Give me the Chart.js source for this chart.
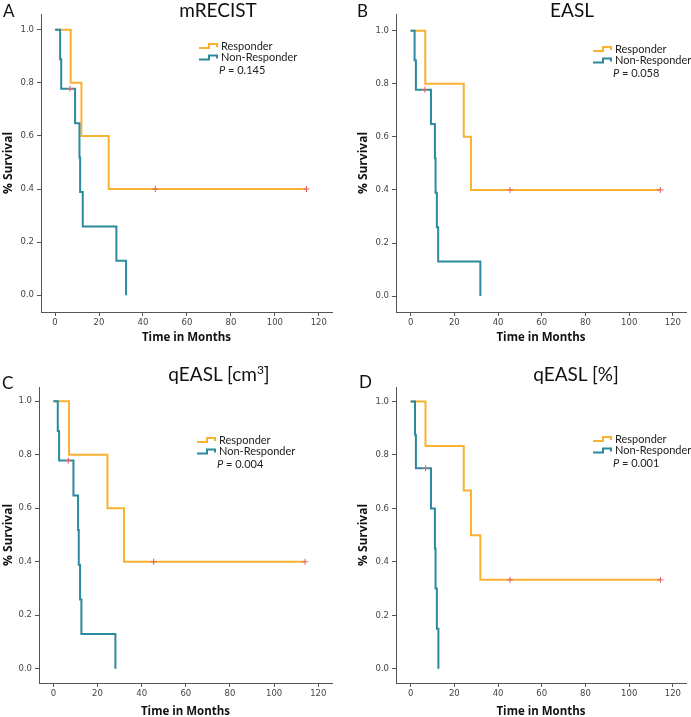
<!DOCTYPE html>
<html>
<head>
<meta charset="utf-8">
<script src="https://cdn.jsdelivr.net/npm/chart.js@4.4.1/dist/chart.umd.min.js"></script>
<style>
  body { margin: 0; background: #fff; width: 691px; height: 717px; position: relative; overflow: hidden; }
  canvas { position: absolute; }
  .lbl { position: absolute; font-family: Lato, "Open Sans", sans-serif; color: #111; white-space: nowrap; line-height: 1; }
  .letter { font-size: 17px; }
  .ttl { font-size: 19px; transform: translateX(-50%); }
  sup { font-size: 12px; vertical-align: 7px; }
</style>
</head>
<body>
<canvas id="chartA" width="345" height="345" style="left:0;top:0"></canvas>
<canvas id="chartB" width="346" height="345" style="left:345px;top:0"></canvas>
<canvas id="chartC" width="345" height="379" style="left:0;top:340px"></canvas>
<canvas id="chartD" width="346" height="379" style="left:345px;top:340px"></canvas>

<div class="lbl letter" style="left:3px;top:2px">A</div>
<div class="lbl ttl" style="left:218px;top:0px">mRECIST</div>
<div class="lbl letter" style="left:357px;top:2px">B</div>
<div class="lbl ttl" style="left:572px;top:0px">EASL</div>
<div class="lbl letter" style="left:2px;top:374px">C</div>
<div class="lbl ttl" style="left:219px;top:364px">qEASL [cm<sup>3</sup>]</div>
<div class="lbl letter" style="left:359px;top:373px">D</div>
<div class="lbl ttl" style="left:576px;top:364px">qEASL [%]</div>

<script>
// axis ticks
const xTicks = [0, 20, 40, 60, 80, 100, 120];
const yTicks = [0, 0.2, 0.4, 0.6, 0.8, 1.0];

// A - mRECIST
const respTimeA = [0, 7.1, 12.0, 24.4, 114.4];
const respSurvA = [1, 0.8, 0.6, 0.4, 0.4];
const nonTimeA = [0, 2.3, 2.8, 9.1, 11.1, 11.4, 12.6, 27.9, 32.3];
const nonSurvA = [1, 0.889, 0.778, 0.648, 0.519, 0.389, 0.259, 0.130, 0];
const respCensTimeA = [45.6, 114.4];
const respCensSurvA = [0.4, 0.4];
const nonCensTimeA = [6.8];
const nonCensSurvA = [0.778];

// B - EASL
const respTimeB = [0, 6.7, 24.3, 27.6, 114.3];
const respSurvB = [1, 0.8, 0.6, 0.4, 0.4];
const nonTimeB = [0, 1.8, 2.4, 9.3, 11.1, 11.4, 12.0, 12.6, 31.9];
const nonSurvB = [1, 0.889, 0.778, 0.648, 0.519, 0.389, 0.259, 0.130, 0];
const respCensTimeB = [45.5, 114.3];
const respCensSurvB = [0.4, 0.4];
const nonCensTimeB = [6.5];
const nonCensSurvB = [0.778];

// C - qEASL [cm3]
const respTimeC = [0, 7.1, 24.5, 32.0, 114.0];
const respSurvC = [1, 0.8, 0.6, 0.4, 0.4];
const nonTimeC = [0, 2.0, 2.6, 9.1, 11.2, 11.5, 12.1, 12.7, 28.1];
const nonSurvC = [1, 0.889, 0.778, 0.648, 0.519, 0.389, 0.259, 0.130, 0];
const respCensTimeC = [45.4, 114.0];
const respCensSurvC = [0.4, 0.4];
const nonCensTimeC = [6.8];
const nonCensSurvC = [0.778];

// D - qEASL [%]
const respTimeD = [0, 6.8, 24.3, 27.6, 31.9, 114.3];
const respSurvD = [1, 0.833, 0.667, 0.5, 0.333, 0.333];
const nonTimeD = [0, 2.0, 2.4, 9.3, 11.1, 11.4, 12.0, 12.7];
const nonSurvD = [1, 0.875, 0.75, 0.6, 0.45, 0.3, 0.15, 0];
const respCensTimeD = [45.5, 114.3];
const respCensSurvD = [0.333, 0.333];
const nonCensTimeD = [6.8];
const nonCensSurvD = [0.75];

const pValues = ['0.145', '0.058', '0.004', '0.001'];

const orange = '#f9b131';
const teal = '#2b8a9d';
const censorRed = '#e2606a';
const axisGray = '#555';

function toPoints(xs, ys) {
  return xs.map((x, i) => ({ x: x, y: ys[i] }));
}

// little step-shaped legend, drawn at fixed spots in the canvas
const kmLegend = {
  id: 'kmLegend',
  afterDraw(chart, args, opts) {
    const ctx = chart.ctx;
    const rows = [
      { text: 'Responder', color: orange },
      { text: 'Non-Responder', color: teal }
    ];
    ctx.save();
    ctx.font = '11px Lato, "Open Sans", sans-serif';
    ctx.textBaseline = 'middle';
    rows.forEach((r, i) => {
      const y = opts.y + i * opts.gap;
      const x = opts.x;
      ctx.strokeStyle = r.color;
      ctx.lineWidth = 2;
      ctx.beginPath();
      ctx.moveTo(x, y + 2);
      ctx.lineTo(x + 10, y + 2);
      ctx.lineTo(x + 10, y - 2);
      ctx.lineTo(x + 18, y - 2);
      ctx.lineTo(x + 18, y + 1);
      ctx.stroke();
      ctx.fillStyle = '#222';
      ctx.fillText(r.text, x + 22, y);
    });
    const py = opts.y + 2 * opts.gap + 1;
    ctx.font = 'italic 11px Lato, "Open Sans", sans-serif';
    ctx.fillText('P', opts.x + 20, py);
    const pw = ctx.measureText('P').width;
    ctx.font = '11px Lato, "Open Sans", sans-serif';
    ctx.fillText(' = ' + opts.p, opts.x + 20 + pw, py);
    ctx.restore();
  }
};

function makePanel(id, p) {
  const ctx = document.getElementById(id).getContext('2d');
  return new Chart(ctx, {
    type: 'scatter',
    data: {
      datasets: [
        { data: toPoints(p.respCensTime, p.respCensSurv), pointStyle: 'cross', pointRadius: 3, borderColor: censorRed, borderWidth: 1, showLine: false },
        { data: toPoints(p.nonCensTime, p.nonCensSurv), pointStyle: 'cross', pointRadius: 3, borderColor: censorRed, borderWidth: 1, showLine: false },
        { data: toPoints(p.nonTime, p.nonSurv), showLine: true, stepped: true, borderColor: teal, borderWidth: 2, pointRadius: 0 },
        { data: toPoints(p.respTime, p.respSurv), showLine: true, stepped: true, borderColor: orange, borderWidth: 2, pointRadius: 0 }
      ]
    },
    options: {
      responsive: false,
      animation: false,
      events: [],
      devicePixelRatio: 1,
      layout: { padding: p.padding },
      plugins: {
        legend: { display: false },
        tooltip: { enabled: false },
        kmLegend: { x: p.legendX, y: p.legendY, gap: 11.5, p: p.pValue }
      },
      scales: {
        x: {
          type: 'linear',
          min: p.xMin, max: p.xMax,
          afterBuildTicks: s => { s.ticks = xTicks.map(v => ({ value: v })); },
          afterFit: s => { s.height = p.xHeight; },
          grid: { drawOnChartArea: false, drawTicks: true, tickLength: 4, color: axisGray },
          border: { color: axisGray, width: 1 },
          ticks: { color: '#444', padding: 2, font: { family: '"DejaVu Sans"', size: 8.5 } },
          title: { display: true, text: 'Time in Months', color: '#111', padding: { top: 0, bottom: 0 },
                   font: { family: '"Open Sans"', weight: 'bold', size: 11.5 } }
        },
        y: {
          type: 'linear',
          min: p.yMin, max: p.yMax,
          afterBuildTicks: s => { s.ticks = yTicks.map(v => ({ value: v })); },
          afterFit: s => { s.width = p.yWidth; },
          grid: { drawOnChartArea: false, drawTicks: true, tickLength: 4, color: axisGray },
          border: { color: axisGray, width: 1 },
          ticks: { color: '#444', padding: 3, font: { family: '"DejaVu Sans"', size: 8.5 },
                   callback: v => v.toFixed(1) },
          title: { display: true, text: '% Survival', color: '#111', padding: { top: 1.5, bottom: 0 },
                   font: { family: '"Open Sans"', weight: 'bold', size: 12 } }
        }
      }
    },
    plugins: [kmLegend]
  });
}

makePanel('chartA', {
  respTime: respTimeA, respSurv: respSurvA, nonTime: nonTimeA, nonSurv: nonSurvA,
  respCensTime: respCensTimeA, respCensSurv: respCensSurvA, nonCensTime: nonCensTimeA, nonCensSurv: nonCensSurvA,
  pValue: pValues[0], legendX: 199, legendY: 46,
  padding: { left: 0, top: 14, right: 13, bottom: 0 }, yWidth: 41, xHeight: 33,
  xMin: -6.4, xMax: 126, yMin: -0.063, yMax: 1.059
});

makePanel('chartB', {
  respTime: respTimeB, respSurv: respSurvB, nonTime: nonTimeB, nonSurv: nonSurvB,
  respCensTime: respCensTimeB, respCensSurv: respCensSurvB, nonCensTime: nonCensTimeB, nonCensSurv: nonCensSurvB,
  pValue: pValues[1], legendX: 248, legendY: 49,
  padding: { left: 10, top: 14, right: 3, bottom: 0 }, yWidth: 41, xHeight: 33,
  xMin: -6.7, xMax: 126, yMin: -0.06, yMax: 1.063
});

makePanel('chartC', {
  respTime: respTimeC, respSurv: respSurvC, nonTime: nonTimeC, nonSurv: nonSurvC,
  respCensTime: respCensTimeC, respCensSurv: respCensSurvC, nonCensTime: nonCensTimeC, nonCensSurv: nonCensSurvC,
  pValue: pValues[2], legendX: 197, legendY: 100,
  padding: { left: 0, top: 47, right: 13, bottom: 0 }, yWidth: 39, xHeight: 36,
  xMin: -6.5, xMax: 126.2, yMin: -0.053, yMax: 1.053
});

makePanel('chartD', {
  respTime: respTimeD, respSurv: respSurvD, nonTime: nonTimeD, nonSurv: nonSurvD,
  respCensTime: respCensTimeD, respCensSurv: respCensSurvD, nonCensTime: nonCensTimeD, nonCensSurv: nonCensSurvD,
  pValue: pValues[3], legendX: 248, legendY: 99,
  padding: { left: 10, top: 47, right: 3, bottom: 0 }, yWidth: 41, xHeight: 36,
  xMin: -6.7, xMax: 126, yMin: -0.053, yMax: 1.054
});
</script>
</body>
</html>
